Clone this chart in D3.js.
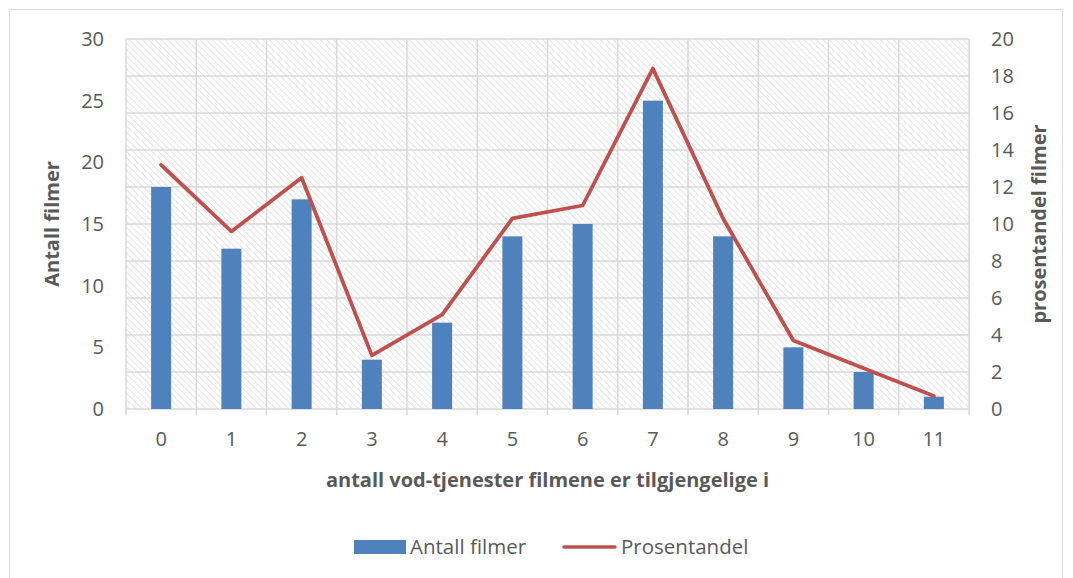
<!DOCTYPE html>
<html>
<head>
<meta charset="utf-8">
<script src="https://cdn.jsdelivr.net/npm/d3@7"></script>
<style>
    body { margin: 0; background: #fff; }
    svg text { font-family: "Open Sans", "Liberation Sans", sans-serif; fill: #595959; }
</style>
</head>
<body>
<svg id="chart" width="1073" height="578"></svg>
<script>
// Chart data
const categories = ["0", "1", "2", "3", "4", "5", "6", "7", "8", "9", "10", "11"];
const antallFilmer = [18, 13, 17, 4, 7, 14, 15, 25, 14, 5, 3, 1];
const prosentandel = [13.2, 9.6, 12.5, 2.9, 5.1, 10.3, 11.0, 18.4, 10.3, 3.7, 2.2, 0.7];
const leftTicks = [0, 5, 10, 15, 20, 25, 30];
const rightTicks = [0, 2, 4, 6, 8, 10, 12, 14, 16, 18, 20];

const svg = d3.select("#chart");

// Outer border of chart
svg.append("rect")
    .attr("x", 9.5).attr("y", 9.5)
    .attr("width", 1053).attr("height", 580)
    .attr("fill", "#fff")
    .attr("stroke", "#d9d9d9");

// Plot area
const plot = { left: 126, right: 969, top: 39, bottom: 409 };

const x = d3.scaleBand().domain(categories).range([plot.left, plot.right]);
const yLeft = d3.scaleLinear().domain([0, 30]).range([plot.bottom, plot.top]);
const yRight = d3.scaleLinear().domain([0, 20]).range([plot.bottom, plot.top]);

// Hatch pattern for background (stripes from top-left to bottom-right)
const defs = svg.append("defs");
const pattern = defs.append("pattern")
    .attr("id", "hatch")
    .attr("patternUnits", "userSpaceOnUse")
    .attr("width", 4.5).attr("height", 4.5)
    .attr("patternTransform", "rotate(-45)");
pattern.append("line")
    .attr("x1", 0).attr("y1", 0).attr("x2", 0).attr("y2", 4.5)
    .attr("stroke", "#d8d8d8").attr("stroke-width", 1.4);

svg.append("rect")
    .attr("x", plot.left).attr("y", plot.top)
    .attr("width", plot.right - plot.left).attr("height", plot.bottom - plot.top)
    .attr("fill", "url(#hatch)");

// Gridlines
svg.append("g").selectAll("line")
    .data(rightTicks)
    .join("line")
    .attr("x1", plot.left).attr("x2", plot.right)
    .attr("y1", d => yRight(d)).attr("y2", d => yRight(d))
    .attr("stroke", "#d9d9d9").attr("stroke-width", 1.5);

const bounds = categories.map(c => x(c)).concat([plot.right]);
svg.append("g").selectAll("line")
    .data(bounds)
    .join("line")
    .attr("x1", d => d).attr("x2", d => d)
    .attr("y1", plot.top).attr("y2", plot.bottom + 6)
    .attr("stroke", "#d9d9d9").attr("stroke-width", 1.5);

// Bars
const barWidth = 20;
svg.append("g").selectAll("rect")
    .data(antallFilmer)
    .join("rect")
    .attr("x", (d, i) => x(categories[i]) + x.bandwidth() / 2 - barWidth / 2)
    .attr("y", d => yLeft(d))
    .attr("width", barWidth)
    .attr("height", d => plot.bottom - yLeft(d))
    .attr("fill", "#4f81bd");

// Line
const line = d3.line()
    .x((d, i) => x(categories[i]) + x.bandwidth() / 2)
    .y(d => yRight(d));

svg.append("path")
    .datum(prosentandel)
    .attr("d", line)
    .attr("fill", "none")
    .attr("stroke", "#c0504d")
    .attr("stroke-width", 3.8)
    .attr("stroke-linejoin", "round")
    .attr("stroke-linecap", "round");

// Axes
const axisLeft = svg.append("g")
    .attr("transform", `translate(${plot.left},0)`)
    .call(d3.axisLeft(yLeft).tickValues(leftTicks).tickSize(0).tickPadding(22));
axisLeft.select(".domain").remove();

const axisRight = svg.append("g")
    .attr("transform", `translate(${plot.right},0)`)
    .call(d3.axisRight(yRight).tickValues(rightTicks).tickSize(0).tickPadding(22));
axisRight.select(".domain").remove();

const axisBottom = svg.append("g")
    .attr("transform", `translate(0,${plot.bottom})`)
    .call(d3.axisBottom(x).tickSize(0).tickPadding(23));
axisBottom.select(".domain").remove();

svg.selectAll(".tick text")
    .attr("font-size", 20)
    .attr("font-family", "'Open Sans', sans-serif")
    .attr("fill", "#595959");

// Axis titles
svg.append("text")
    .attr("transform", `translate(59,${(plot.top + plot.bottom) / 2}) rotate(-90)`)
    .attr("text-anchor", "middle")
    .attr("font-size", 20)
    .attr("font-weight", "bold")
    .text("Antall filmer");

svg.append("text")
    .attr("transform", `translate(1046,${(plot.top + plot.bottom) / 2}) rotate(-90)`)
    .attr("text-anchor", "middle")
    .attr("font-size", 20)
    .attr("font-weight", "bold")
    .text("prosentandel filmer");

svg.append("text")
    .attr("x", (plot.left + plot.right) / 2)
    .attr("y", 487)
    .attr("text-anchor", "middle")
    .attr("font-size", 20)
    .attr("font-weight", "bold")
    .text("antall vod-tjenester filmene er tilgjengelige i");

// Legend
const legend = svg.append("g");
legend.append("rect")
    .attr("x", 354).attr("y", 540)
    .attr("width", 52).attr("height", 14)
    .attr("fill", "#4f81bd");
legend.append("text")
    .attr("x", 410).attr("y", 554)
    .attr("font-size", 20.5)
    .text("Antall filmer");
legend.append("line")
    .attr("x1", 564).attr("x2", 615)
    .attr("y1", 547).attr("y2", 547)
    .attr("stroke", "#c0504d").attr("stroke-width", 3.5)
    .attr("stroke-linecap", "round");
legend.append("text")
    .attr("x", 621).attr("y", 554)
    .attr("font-size", 20.5)
    .text("Prosentandel");
</script>
</body>
</html>
